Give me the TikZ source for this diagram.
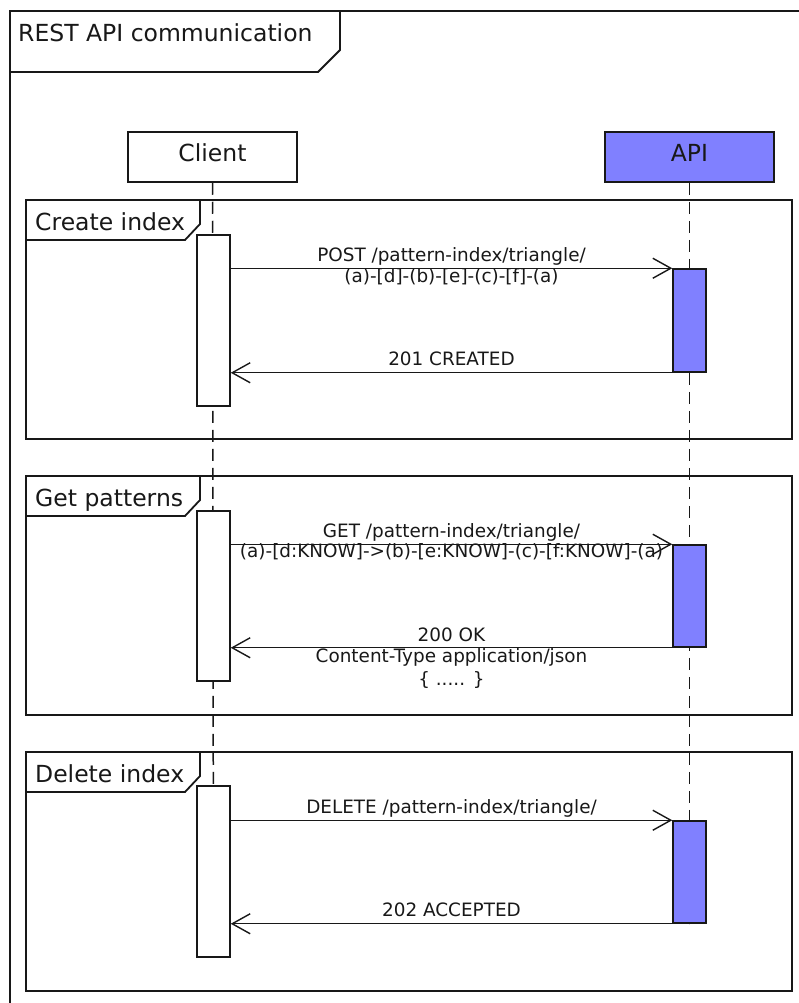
\documentclass[tikz,border=0pt]{standalone}
\usepackage{fontspec}
\setmainfont{DejaVu Sans}
\usetikzlibrary{arrows.meta,calc}
\definecolor{apiblue}{HTML}{8080FF}
\definecolor{ink}{HTML}{181818}
\newcommand\titlefont{\fontsize{23.5}{28}\selectfont}
\newcommand\msgfont{\fontsize{18.4}{22}\selectfont}
\pgfdeclarelayer{bg}
\pgfsetlayers{bg,main}
\tikzset{
  frame/.style={draw=ink, line width=1.8pt},
  part/.style={draw=ink, line width=1.5pt, minimum width=169pt, minimum height=50pt,
    inner sep=0pt, text height=16pt, text depth=6pt, font=\titlefont, text=ink},
  act/.style={draw=ink, line width=1.5pt, fill=white, minimum width=33pt, inner sep=0pt},
  life/.style={draw=ink, line width=1.5pt, dash pattern=on 12pt off 7pt},
  msg/.style={draw=ink, line width=1.4pt,
    -{Straight Barb[length=18pt,width=20pt,line width=1.4pt]}},
  lbl/.style={font=\msgfont, text=ink, inner sep=0pt, anchor=base},
  ttl/.style={font=\titlefont, text=ink, inner sep=0pt, anchor=base west},
}
\begin{document}
\begin{tikzpicture}[x=1pt,y=-1pt]
\useasboundingbox (0,0) rectangle (799,1003);
\clip (0,0) rectangle (799,1003);

% outer frame with its title tab
\draw[frame] (10,1030) -- (10,11) -- (830,11);
\draw[frame] (10,72) -- (318,72) -- (340,50) -- (340,11);
\node[ttl] (title) at (18,42) {REST API communication};

% participants
\node[part] (client) at (212.5,157) {Client};
\node[part, fill=apiblue] (api) at (689.5,157) {API};

% activations: client side
\node[act, minimum height=171pt] (ca1) at (213.5,320.5) {};
\node[act, minimum height=170pt] (ca2) at (213.5,596) {};
\node[act, minimum height=171pt] (ca3) at (213.5,871.5) {};
% activations: API side
\node[act, fill=apiblue, minimum height=103pt] (aa1) at (689.5,320.5) {};
\node[act, fill=apiblue, minimum height=102pt] (aa2) at (689.5,596) {};
\node[act, fill=apiblue, minimum height=102pt] (aa3) at (689.5,872) {};

\begin{pgfonlayer}{bg}
  % lifelines
  \draw[life] (client.south) -- (ca3.south);
  \draw[life] (api.south) -- (aa3.south);
  % groups
  \foreach \gy in {200, 476, 752}{
    \draw[frame] (26,\gy) rectangle ++(766,239);
    \draw[frame, fill=white] (26,\gy) -- (200,\gy) -- ++(0,24) -- (185,\gy+40) -- (26,\gy+40) -- cycle;
  }
\end{pgfonlayer}
\node[ttl] (g1) at (35,230) {Create index};
\node[ttl] (g2) at (35,506) {Get patterns};
\node[ttl] (g3) at (35,782) {Delete index};

% Create index
\draw[msg] (ca1.east |- aa1.north west) -- (aa1.north west);
\node[lbl] (m1a) at ($(ca1.east |- aa1.north)!0.5!(aa1.north west)+(0,-7)$) {POST /pattern-index/triangle/};
\node[lbl] (m1b) at ($(m1a.base)+(0,21)$) {(a)-[d]-(b)-[e]-(c)-[f]-(a)};
\draw[msg] (aa1.south west) -- (ca1.east |- aa1.south west);
\node[lbl] (r1) at ($(ca1.east |- aa1.south)!0.5!(aa1.south west)+(0,-7)$) {201 CREATED};

% Get patterns
\draw[msg] (ca2.east |- aa2.north west) -- (aa2.north west);
\node[lbl] (m2a) at ($(ca2.east |- aa2.north)!0.5!(aa2.north west)+(0,-7)$) {GET /pattern-index/triangle/};
\node[lbl] (m2b) at ($(m2a.base)+(0,20)$) {(a)-[d:KNOW]->(b)-[e:KNOW]-(c)-[f:KNOW]-(a)};
\draw[msg] (aa2.south west) -- (ca2.east |- aa2.south west);
\node[lbl] (r2a) at ($(ca2.east |- aa2.south)!0.5!(aa2.south west)+(0,-6)$) {200 OK};
\node[lbl] (r2b) at ($(r2a.base)+(0,21)$) {Content-Type application/json};
\node[lbl] (r2c) at ($(r2b.base)+(0,23)$) {\{ ..... \}};

% Delete index
\draw[msg] (ca3.east |- aa3.north west) -- (aa3.north west);
\node[lbl] (m3a) at ($(ca3.east |- aa3.north)!0.5!(aa3.north west)+(0,-7)$) {DELETE /pattern-index/triangle/};
\draw[msg] (aa3.south west) -- (ca3.east |- aa3.south west);
\node[lbl] (r3) at ($(ca3.east |- aa3.south)!0.5!(aa3.south west)+(0,-7)$) {202 ACCEPTED};
\end{tikzpicture}
\end{document}
